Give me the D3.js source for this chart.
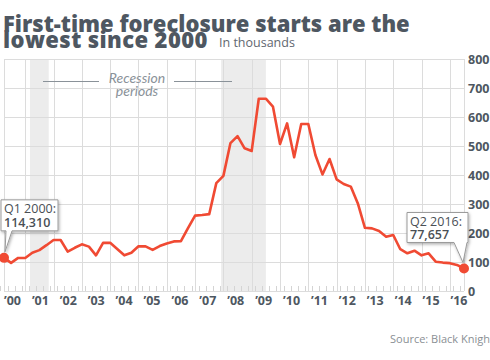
<!DOCTYPE html>
<html>
<head>
<meta charset="utf-8">
<script src="https://cdn.jsdelivr.net/npm/d3@7"></script>
<style>
  body { margin: 0; background: #fff; }
  svg { display: block; font-family: "Open Sans", Lato, sans-serif; }
</style>
</head>
<body>
<div id="container"></div>
<script>
let w = 490;
let h = 360;

// quarterly first-time foreclosure starts, thousands, Q1 2000 .. Q2 2016
let values = [
  114.31, 97, 114, 114,
  132, 141, 158, 176,
  176, 136, 149, 161,
  153, 123, 166, 166,
  145, 123, 132, 154,
  154, 142, 155, 164,
  171, 172, 217, 260,
  262, 265, 372, 397,
  510, 534, 492, 483,
  663, 663, 636, 507,
  578, 461, 576, 576,
  469, 402, 455, 385,
  369, 360, 302, 218,
  216, 207, 187, 193,
  144, 130, 139, 123,
  130, 101, 98, 96,
  90, 77.657
];
let firstQuarter = 2000.25; // Q1 2000, plotted at quarter end
let recessions = [[2001.17, 2001.83], [2007.92, 2009.5]];
let years = d3.range(2000, 2017);
let yearLabels = ["’00","’01","’02","’03","’04","’05","’06","’07","’08","’09","’10","’11","’12","’13","’14","’15","’16"];
let yTicks = [0, 100, 200, 300, 400, 500, 600, 700, 800];
let callouts = [
  {index: 0, line1: "Q1 2000:", line2: "114,310"},
  {index: 65, line1: "Q2 2016:", line2: "77,657"}
];

let data = values.map((v, i) => ({t: firstQuarter + i * 0.25, v: v}));

let viz = d3.select("#container")
  .append("svg")
  .attr("width", w)
  .attr("height", h);

let defs = viz.append("defs");
let shadow = defs.append("filter").attr("id", "shadow")
  .attr("x", "-20%").attr("y", "-20%").attr("width", "150%").attr("height", "150%");
shadow.append("feDropShadow")
  .attr("dx", 1).attr("dy", 1.5).attr("stdDeviation", 1.5)
  .attr("flood-color", "#000").attr("flood-opacity", 0.3);

let x = d3.scaleLinear().domain([2000.25, 2016.5]).range([4, 464]);
let y = d3.scaleLinear().domain([0, 800]).range([291, 59]);
// year labels sit a touch tighter than the gridlines
let xLabel = d3.scaleLinear().domain([2000, 2016]).range([12.5, 459]);

// title
let titleColor = "#4e5761";
let t1 = viz.append("text")
  .attr("x", 3).attr("y", 31.5)
  .attr("fill", titleColor)
  .style("font-weight", 800)
  .style("font-size", "21px")
  .text("First-time foreclosure starts are the");
// fit to the reference width
let t1w = t1.node().getComputedTextLength();
let titleSize = Math.min(22, 21 * 418 / t1w);
t1.style("font-size", titleSize + "px");

viz.append("text")
  .attr("x", 3).attr("y", 47.5)
  .attr("fill", titleColor)
  .style("font-weight", 800)
  .style("font-size", titleSize + "px")
  .style("letter-spacing", "0.4px")
  .text("lowest since 2000");

viz.append("text")
  .attr("x", 219).attr("y", 47)
  .attr("fill", "#5f6770")
  .style("font-size", "12.5px")
  .text("In thousands");

// recession shading
viz.append("g").selectAll("rect")
  .data(recessions)
  .enter()
  .append("rect")
  .attr("x", d => x(d[0]))
  .attr("width", d => x(d[1]) - x(d[0]))
  .attr("y", y(800))
  .attr("height", y(0) - y(800))
  .attr("fill", "#ececec");

// grid
let grid = viz.append("g").attr("stroke", "#dcdcdc").attr("stroke-width", 1);
grid.selectAll(".hgrid").data(yTicks).enter()
  .append("line")
  .attr("class", "hgrid")
  .attr("x1", x(2000.25)).attr("x2", x(2016.5))
  .attr("y1", d => Math.round(y(d)) + 0.5)
  .attr("y2", d => Math.round(y(d)) + 0.5);
grid.selectAll(".vgrid").data(years.slice(1).concat([2000.25, 2016.5])).enter()
  .append("line")
  .attr("class", "vgrid")
  .attr("x1", d => Math.round(x(d)) + 0.5)
  .attr("x2", d => Math.round(x(d)) + 0.5)
  .attr("y1", y(800)).attr("y2", y(0));

// quarter ticks along the bottom
viz.append("g").selectAll("line")
  .data(data.map(d => d.t))
  .enter()
  .append("line")
  .attr("x1", d => Math.round(x(d - 0.125)) + 0.5)
  .attr("x2", d => Math.round(x(d - 0.125)) + 0.5)
  .attr("y1", y(0) - 5).attr("y2", y(0))
  .attr("stroke", "#d4d4d4");

// recession legend
let legendG = viz.append("g").attr("fill", "#8a9299")
  .style("font-family", "Lato, sans-serif")
  .style("font-style", "italic").style("font-size", "14px");
legendG.append("text").attr("x", 137).attr("y", 83).attr("text-anchor", "middle").text("Recession");
legendG.append("text").attr("x", 137).attr("y", 96).attr("text-anchor", "middle").text("periods");
legendG.append("line").attr("x1", 43).attr("x2", 99).attr("y1", 81.5).attr("y2", 81.5).attr("stroke", "#8a9299");
legendG.append("line").attr("x1", 174).attr("x2", 232).attr("y1", 81.5).attr("y2", 81.5).attr("stroke", "#8a9299");

// x labels
viz.append("g").selectAll("text")
  .data(years)
  .enter()
  .append("text")
  .attr("x", d => xLabel(d))
  .attr("y", 305)
  .attr("text-anchor", "middle")
  .attr("fill", titleColor)
  .style("font-weight", 700)
  .style("font-size", "12.5px")
  .text((d, i) => yearLabels[i]);

// y labels on the right
viz.append("g").selectAll("text")
  .data(yTicks)
  .enter()
  .append("text")
  .attr("x", 468)
  .attr("y", d => y(d) + 4.5)
  .attr("fill", titleColor)
  .style("font-weight", 700)
  .style("font-size", "12.5px")
  .text(d => d);

// the line
let line = d3.line().x(d => x(d.t)).y(d => y(d.v));
viz.append("path")
  .datum(data)
  .attr("d", line)
  .attr("fill", "none")
  .attr("stroke", "#f04a33")
  .attr("stroke-width", 2.6)
  .attr("stroke-linejoin", "round");

// callouts
callouts.forEach(c => {
  let d = data[c.index];
  let px = x(d.t), py = y(d.v);
  let g = viz.append("g");
  let left, right, top, bottom, tail;
  if (c.index === 0) {
    left = px - 3; right = px + 54; top = py - 58; bottom = py - 27;
    tail = [px + 8, px + 2, px + 1];
  } else {
    left = px - 57; right = px + 4; top = py - 56; bottom = py - 26;
    tail = [px + 3, px - 10, px - 1];
  }
  let p = d3.path();
  p.moveTo(left, top);
  p.lineTo(right, top);
  p.lineTo(right, bottom);
  p.lineTo(tail[0], bottom);
  p.lineTo(tail[2], py - 6);
  p.lineTo(tail[1], bottom);
  p.lineTo(left, bottom);
  p.closePath();
  g.append("path")
    .attr("d", p.toString())
    .attr("fill", "#fff")
    .attr("stroke", "#9a9a9a")
    .attr("stroke-width", 1)
    .attr("filter", "url(#shadow)");
  g.append("text")
    .attr("x", left + 3).attr("y", top + 13.5)
    .attr("fill", "#4a4f55")
    .style("font-size", "12.5px")
    .text(c.line1);
  g.append("text")
    .attr("x", left + 3).attr("y", top + 27)
    .attr("fill", "#4a4f55")
    .style("font-weight", 600)
    .style("font-size", "12.5px")
    .text(c.line2);

  viz.append("circle")
    .attr("cx", px).attr("cy", py)
    .attr("r", 5)
    .attr("fill", "#f04a33");
});

// source (runs off the right edge, as in the original)
viz.append("text")
  .attr("x", 390).attr("y", 343)
  .attr("fill", "#8a8f94")
  .style("font-size", "11px")
  .text("Source: Black Knight");
</script>
</body>
</html>
